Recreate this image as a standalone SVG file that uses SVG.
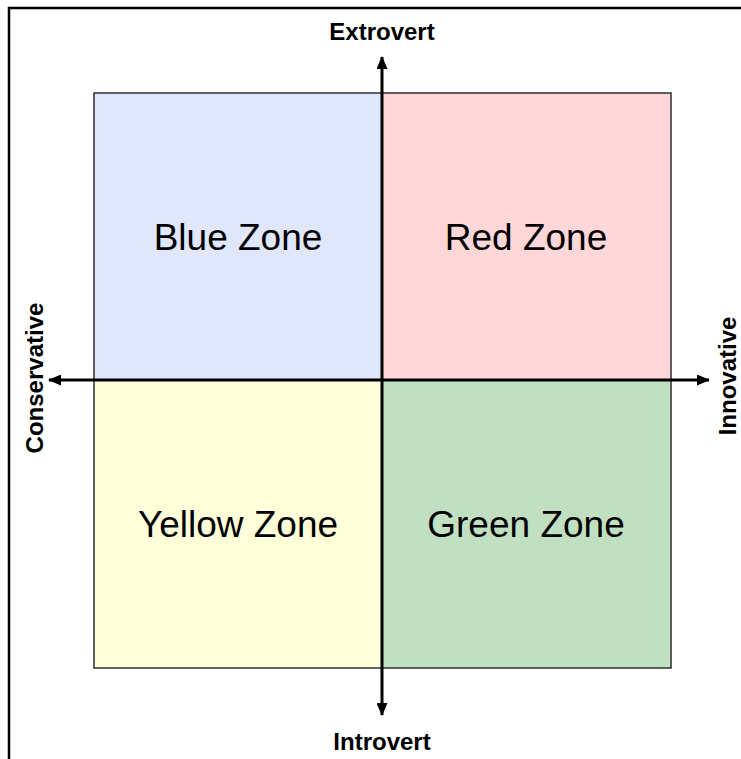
<svg xmlns="http://www.w3.org/2000/svg" width="741" height="759" viewBox="0 0 741 759">
<style>
.q{stroke:#3a3a3a;stroke-width:1.6}
.zone{font-family:"Liberation Sans",Arial,sans-serif;font-size:37px;fill:#000;text-anchor:middle}
.ax{font-family:"Liberation Sans",Arial,sans-serif;font-size:24px;font-weight:bold;fill:#000;text-anchor:middle}
.axis{stroke:#000;stroke-width:3;fill:none}
</style>
<defs>
<marker id="ah" viewBox="0 0 13 11" refX="12" refY="5.5" markerWidth="13" markerHeight="11" markerUnits="userSpaceOnUse" orient="auto">
<path d="M0,0 L13,5.5 L0,11 Z" fill="#000"/>
</marker>
</defs>
<rect width="741" height="759" fill="#fff"/>
<path d="M9,759 V8 H741" fill="none" stroke="#000" stroke-width="2.5"/>
<g id="blue"><rect class="q" x="94" y="93" width="288" height="287" fill="#E0E6FB"/><text class="zone" x="238" y="250">Blue Zone</text></g>
<g id="red"><rect class="q" x="382" y="93" width="289" height="287" fill="#FFD7D8"/><text class="zone" x="526" y="250">Red Zone</text></g>
<g id="yellow"><rect class="q" x="94" y="380" width="288" height="288" fill="#FFFFD9"/><text class="zone" x="238" y="537">Yellow Zone</text></g>
<g id="green"><rect class="q" x="382" y="380" width="289" height="288" fill="#C1DFC1"/><text class="zone" x="526" y="537">Green Zone</text></g>
<g id="connectors">
<line class="axis" x1="382" y1="380" x2="382" y2="57" marker-end="url(#ah)"/>
<line class="axis" x1="382" y1="380" x2="382" y2="715" marker-end="url(#ah)"/>
<line class="axis" x1="382" y1="380" x2="49" y2="380" marker-end="url(#ah)"/>
<line class="axis" x1="382" y1="380" x2="709" y2="380" marker-end="url(#ah)"/>
</g>
<g id="extrovert"><text class="ax" x="382" y="40">Extrovert</text></g>
<g id="introvert"><text class="ax" x="382" y="750">Introvert</text></g>
<g id="conservative"><text class="ax" transform="translate(43,378) rotate(-90)">Conservative</text></g>
<g id="innovative"><text class="ax" transform="translate(736,376) rotate(-90)">Innovative</text></g>
</svg>
